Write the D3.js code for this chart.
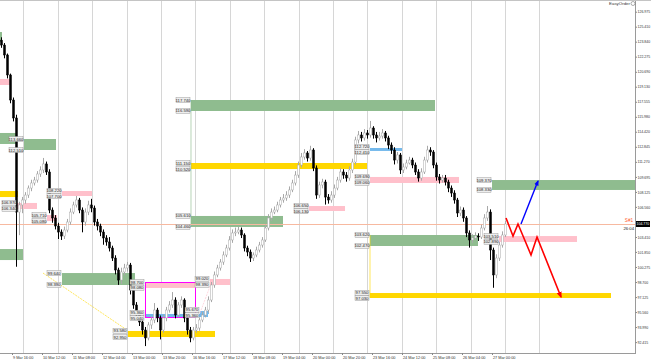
<!DOCTYPE html>
<html>
<head>
<meta charset="utf-8">
<script src="https://cdn.jsdelivr.net/npm/d3@7"></script>
<style>
body { margin: 0; background: #fff; }
svg { display: block; font-family: "Liberation Sans", Arial, sans-serif; }
</style>
</head>
<body>
<svg id="chart" width="651" height="361"></svg>
<script>
"use strict";

// H1 candles, [open, high, low, close]
var candles = [
	[124.00,124.30,123.20,123.49], [123.49,123.70,122.10,122.45], [122.45,122.60,120.00,120.36], [120.36,120.50,117.40,117.74],
	[117.74,118.00,115.50,115.86], [115.86,116.20,100.30,106.02], [106.02,107.10,103.60,106.76], [106.76,107.60,105.90,107.28],
	[107.28,108.10,106.90,107.80], [107.80,108.80,107.50,108.53], [108.53,109.40,108.20,109.06], [109.06,109.70,108.80,109.37],
	[109.37,110.30,109.10,110.00], [110.00,110.80,109.70,110.42], [110.42,111.68,110.10,111.05], [111.05,111.30,109.90,110.21],
	[110.21,110.50,105.90,106.23], [106.23,106.50,104.90,105.40], [105.40,105.70,104.20,104.56], [104.56,104.90,103.20,103.93],
	[103.93,104.20,103.10,103.51], [103.51,104.50,103.20,104.14], [104.14,105.30,103.90,104.98], [104.98,106.40,104.70,106.02],
	[106.02,107.10,105.80,106.76], [106.76,107.70,106.50,107.28], [107.28,107.50,105.90,106.23], [106.23,106.50,103.90,104.98],
	[104.98,106.40,104.60,106.02], [106.02,107.20,105.70,106.76], [106.76,107.40,106.00,106.44], [106.44,106.70,104.60,104.98],
	[104.98,105.30,104.10,104.56], [104.56,104.80,103.50,103.93], [103.93,104.20,102.60,103.31], [103.31,103.60,102.50,102.89],
	[102.89,103.40,101.90,102.26], [102.26,102.50,100.90,101.21], [101.21,101.50,99.50,99.96], [99.96,100.20,98.40,98.91],
	[98.91,100.20,98.50,99.75], [99.75,100.60,99.40,100.17], [100.17,100.80,99.80,100.48], [100.48,100.70,97.40,97.87],
	[97.87,98.10,95.90,96.30], [96.30,96.60,94.80,95.25], [95.25,95.60,94.10,94.52], [94.52,94.80,93.20,93.68],
	[93.68,94.00,92.00,92.85], [92.85,94.50,92.60,94.21], [94.21,95.10,93.80,94.73], [94.73,96.50,94.40,95.77],
	[95.77,96.00,94.50,94.94], [94.94,95.20,92.70,93.68], [93.68,95.30,93.40,94.94], [94.94,96.10,94.60,95.77],
	[95.77,96.70,95.50,96.30], [96.30,97.65,96.00,96.82], [96.82,97.10,94.90,95.25], [95.25,96.60,95.00,96.30],
	[96.30,97.20,96.00,96.82], [96.82,97.00,94.50,94.94], [94.94,95.20,93.20,93.68], [93.68,94.00,92.40,92.85],
	[92.85,94.00,92.60,93.68], [93.68,94.30,93.40,93.89], [93.89,95.00,93.60,94.73], [94.73,95.60,94.50,95.25],
	[95.25,96.10,95.00,95.77], [95.77,97.20,95.50,96.82], [96.82,98.70,96.60,98.39], [98.39,99.80,98.10,99.44],
	[99.44,100.50,99.20,100.17], [100.17,101.10,99.90,100.79], [100.79,101.90,100.50,101.53], [101.53,102.60,101.30,102.26],
	[102.26,103.50,102.00,103.10], [103.10,104.20,102.80,103.83], [103.83,104.40,103.50,103.93], [103.93,104.50,103.70,104.14],
	[104.14,104.40,103.30,103.62], [103.62,103.80,101.90,102.26], [102.26,102.50,101.40,101.84], [101.84,102.10,100.80,101.21],
	[101.21,101.80,100.90,101.53], [101.53,102.40,101.30,102.05], [102.05,102.90,101.80,102.57], [102.57,103.40,102.30,103.10],
	[103.10,104.70,102.90,104.35], [104.35,105.80,104.10,105.40], [105.40,106.40,105.10,106.02], [106.02,106.60,105.80,106.23],
	[106.23,107.10,106.00,106.76], [106.76,107.60,106.50,107.28], [107.28,107.90,107.00,107.49], [107.49,108.20,107.20,107.80],
	[107.80,108.70,107.50,108.33], [108.33,109.40,108.10,109.06], [109.06,110.30,108.80,109.89], [109.89,111.30,109.60,110.94],
	[110.94,112.20,110.70,111.78], [111.78,112.60,111.50,112.20], [112.20,112.40,111.30,111.67], [111.67,112.95,111.40,112.51],
	[112.51,112.70,110.30,110.63], [110.63,110.90,107.40,107.80], [107.80,109.20,107.50,108.85], [108.85,109.50,108.50,109.16],
	[109.16,109.40,106.80,107.59], [107.59,107.90,106.90,107.28], [107.28,108.20,107.00,107.80], [107.80,108.90,107.50,108.53],
	[108.53,109.70,108.30,109.37], [109.37,110.60,109.10,110.21], [110.21,110.50,109.50,109.89], [109.89,110.20,109.20,109.58],
	[109.58,110.80,109.30,110.42], [110.42,111.60,110.10,111.25], [111.25,113.90,111.00,113.56], [113.56,114.50,113.20,114.08],
	[114.08,114.40,113.40,113.77], [113.77,114.70,113.50,114.29], [114.29,114.60,113.70,114.08], [114.08,115.55,113.80,114.81],
	[114.81,115.00,113.70,114.08], [114.08,114.40,113.30,113.77], [113.77,114.40,113.50,113.97], [113.97,114.70,113.70,114.29],
	[114.29,114.50,113.40,113.77], [113.77,114.00,112.60,113.03], [113.03,113.30,112.10,112.51], [112.51,112.80,111.00,111.46],
	[111.46,112.30,111.10,111.99], [111.99,112.20,110.00,110.42], [110.42,111.10,110.10,110.73], [110.73,111.50,110.50,111.15],
	[111.15,111.80,111.00,111.46], [111.46,111.70,110.60,110.94], [110.94,111.20,109.90,110.21], [110.21,110.50,109.20,109.58],
	[109.58,110.60,109.30,110.21], [110.21,111.80,110.00,111.46], [111.46,112.95,111.20,112.51], [112.51,112.80,111.90,112.30],
	[112.30,112.50,110.60,110.94], [110.94,111.20,109.30,109.69], [109.69,110.00,109.00,109.37], [109.37,109.90,109.10,109.58],
	[109.58,109.90,108.80,109.16], [109.16,109.40,108.10,108.53], [108.53,108.80,107.60,108.01], [108.01,108.30,106.90,107.28],
	[107.28,107.50,105.50,105.92], [105.92,106.60,105.60,106.23], [106.23,106.50,105.00,105.40], [105.40,105.60,103.40,103.83],
	[103.83,104.10,102.30,103.10], [103.10,103.70,102.80,103.31], [103.31,103.90,103.10,103.51], [103.51,103.80,103.00,103.41],
	[103.41,104.70,103.20,104.35], [104.35,105.80,104.10,105.40], [105.40,106.65,105.10,106.02], [106.02,106.30,101.00,102.05],
	[102.05,102.30,98.10,99.44], [99.44,101.60,99.10,101.21], [101.21,102.90,100.90,102.57], [102.57,104.00,102.30,103.62],
	[103.62,105.10,103.40,104.77]
];

var priceTicks = [126.975, 125.410, 123.840, 122.275, 120.690, 119.130, 117.555, 115.980, 114.420, 112.845, 111.270,
	109.695, 108.125, 106.560, 103.410, 101.850, 100.275, 98.700, 97.125, 95.560, 93.990, 92.415];

var timeTicks = ["9 Mar 16:00", "10 Mar 12:00", "11 Mar 08:00", "12 Mar 04:00", "13 Mar 00:00", "13 Mar 20:00",
	"16 Mar 16:00", "17 Mar 12:00", "18 Mar 08:00", "19 Mar 04:00", "20 Mar 00:00", "20 Mar 20:00",
	"23 Mar 16:00", "24 Mar 12:00", "25 Mar 08:00", "26 Mar 04:00", "27 Mar 00:00"];

// supply / demand zones in bar index and price
var zones = [
	{from: -3, to: 0.33, hi: 124.85, lo: 123.81, kind: "demand"},
	{from: -3, to: 3.33, hi: 119.94, lo: 119.31, kind: "supply"},
	{from: -3, to: 5, hi: 114.29, lo: 113.14, kind: "demand"},
	{from: 7.67, to: 18.33, hi: 113.66, lo: 112.51, kind: "demand", tag: true},
	{from: -3, to: 5.67, hi: 108.22, lo: 107.59, kind: "gold"},
	{from: 5.33, to: 12, hi: 106.97, lo: 106.34, kind: "supply", tag: true},
	{from: 20.33, to: 30.33, hi: 108.22, lo: 107.70, kind: "supply", tag: true},
	{from: 15.33, to: 18.67, hi: 105.71, lo: 105.08, kind: "supply", tag: true},
	{from: -3, to: 7.33, hi: 102.15, lo: 101.00, kind: "demand"},
	{from: 20.33, to: 44.67, hi: 99.64, lo: 98.39, kind: "demand", tag: true},
	{from: 48, to: 64.67, hi: 98.70, lo: 98.08, kind: "supply", tag: true},
	{from: 48, to: 64.67, hi: 98.70, lo: 95.04, kind: "box"},
	{from: 48, to: 69, hi: 95.36, lo: 95.04, kind: "level", tag: true},
	{from: 42.33, to: 71.33, hi: 93.58, lo: 92.95, kind: "gold", tag: true},
	{from: 69.67, to: 76.33, hi: 99.02, lo: 98.39, kind: "supply", tag: true},
	{from: 66.33, to: 69.33, hi: 95.67, lo: 95.36, kind: "level", tag: true},
	{from: 63.33, to: 94, hi: 105.61, lo: 104.46, kind: "demand", tag: true},
	{from: 102.67, to: 114.67, hi: 106.65, lo: 106.13, kind: "supply", tag: true},
	{from: 123, to: 152.67, hi: 109.69, lo: 109.06, kind: "supply", tag: true},
	{from: 123, to: 159, hi: 103.62, lo: 102.47, kind: "demand", tag: true},
	{from: 123, to: 203.33, hi: 97.55, lo: 97.03, kind: "gold", tag: true},
	{from: 123, to: 133.67, hi: 112.72, lo: 112.41, kind: "level", tag: true},
	{from: 63.33, to: 144.67, hi: 117.74, lo: 116.59, kind: "demand", tag: true},
	{from: 63.33, to: 122, hi: 111.15, lo: 110.52, kind: "gold", tag: true},
	{from: 166, to: 192, hi: 103.51, lo: 102.89, kind: "supply", tag: true},
	{from: 163.67, to: 215, hi: 109.37, lo: 108.33, kind: "demand", tag: true}
];

// thin trend / link lines, [bar, price] pairs
var links = [
	{pts: [[63.33, 117.74], [63.33, 104.46]], kind: "demand"},
	{pts: [[123, 103.62], [123, 97.03]], kind: "gold"},
	{pts: [[14, 99.64], [42, 93.68]], kind: "gold"},
	{pts: [[66.33, 95.46], [70.33, 98.81]], kind: "supply"}
];

var bearPath = [[168.33, 105.40], [170.67, 103.51], [172.33, 104.77], [176.67, 101.53], [178.67, 103.41], [186.67, 97.13]];
var bullPath = [[173.33, 104.77], [179, 109.27]];

var colours = {demand: "#8fbc8f", supply: "#ffc0cb", gold: "#ffd700", level: "#74b9ec", box: "#ff00ff"};

var svg = d3.select("#chart");
var W = 635, H = 353;

var x = d3.scaleLinear().domain([0, 211.33]).range([1, W]);
var y = d3.scaleLinear().domain([90.44, 128.2]).range([361, 0]);
var fmt = d3.format(".3f");

svg.append("defs").append("clipPath").attr("id", "plot")
	.append("rect").attr("x", 0).attr("y", 1).attr("width", W).attr("height", H - 1);
["red", "blue"].forEach(function (c) {
	svg.select("defs").append("marker")
		.attr("id", "arrow-" + c)
		.attr("viewBox", "0 0 10 10").attr("refX", 8).attr("refY", 5)
		.attr("markerWidth", 4).attr("markerHeight", 4).attr("orient", "auto")
		.append("path").attr("d", "M0,1 L10,5 L0,9Z").attr("fill", c);
});

var plot = svg.append("g").attr("clip-path", "url(#plot)");

// vertical grid
plot.selectAll("line.grid")
	.data(d3.range(0, 16).map(function (k) { return 7.43 + 11.47 * k; }))
	.enter().append("line")
	.attr("class", "grid")
	.attr("x1", function (d) { return Math.round(x(d)) + 0.5; })
	.attr("x2", function (d) { return Math.round(x(d)) + 0.5; })
	.attr("y1", 1).attr("y2", H)
	.attr("stroke", "#d6d6d6").attr("stroke-width", 1);

// zones
plot.selectAll("rect.zone")
	.data(zones.filter(function (d) { return d.kind !== "box"; }))
	.enter().append("rect")
	.attr("class", "zone")
	.attr("x", function (d) { return x(d.from); })
	.attr("y", function (d) { return y(d.hi); })
	.attr("width", function (d) { return x(d.to) - x(d.from); })
	.attr("height", function (d) { return y(d.lo) - y(d.hi); })
	.attr("fill", function (d) { return colours[d.kind]; });

plot.selectAll("rect.box")
	.data(zones.filter(function (d) { return d.kind === "box"; }))
	.enter().append("rect")
	.attr("class", "box")
	.attr("x", function (d) { return Math.round(x(d.from)) + 0.5; })
	.attr("y", function (d) { return Math.round(y(d.hi)) + 0.5; })
	.attr("width", function (d) { return Math.round(x(d.to) - x(d.from)); })
	.attr("height", function (d) { return Math.round(y(d.lo) - y(d.hi)); })
	.attr("fill", "none")
	.attr("stroke", colours.box).attr("stroke-width", 1);

var link = d3.line()
	.x(function (d) { return x(d[0]); })
	.y(function (d) { return y(d[1]); });

plot.selectAll("path.link")
	.data(links)
	.enter().append("path")
	.attr("class", "link")
	.attr("d", function (d) { return link(d.pts); })
	.attr("fill", "none")
	.attr("stroke", function (d) { return colours[d.kind]; })
	.attr("stroke-width", 0.8)
	.attr("stroke-dasharray", function (d) { return d.pts[0][0] === d.pts[1][0] ? null : "2,1"; })
	.attr("opacity", 0.8);

// current bid line
var last = candles[candles.length - 1][3];
plot.append("line")
	.attr("x1", 0).attr("x2", W)
	.attr("y1", Math.round(y(last)) + 0.5).attr("y2", Math.round(y(last)) + 0.5)
	.attr("stroke", "#f7b9a0").attr("stroke-width", 1);

// candles
var bar = plot.selectAll("g.candle")
	.data(candles)
	.enter().append("g")
	.attr("class", "candle")
	.attr("transform", function (d, i) { return "translate(" + Math.round(x(i)) + ",0)"; });

bar.append("line")
	.attr("x1", 0.5).attr("x2", 0.5)
	.attr("y1", function (d) { return y(d[1]); })
	.attr("y2", function (d) { return y(d[2]); })
	.attr("stroke", function (d) { return d[3] < d[0] ? "#000" : "#a8a8a8"; })
	.attr("stroke-width", 1);

bar.append("rect")
	.attr("x", -0.5)
	.attr("width", 2)
	.attr("y", function (d) { return y(Math.max(d[0], d[3])); })
	.attr("height", function (d) { return Math.max(0.8, Math.abs(y(d[0]) - y(d[3]))); })
	.attr("fill", function (d) { return d[3] < d[0] ? "#000" : "#fff"; })
	.attr("stroke", function (d) { return d[3] < d[0] ? "#000" : "#a8a8a8"; })
	.attr("stroke-width", 0.5);

// forecast arrows
plot.append("path")
	.attr("d", link(bearPath))
	.attr("fill", "none").attr("stroke", "red").attr("stroke-width", 1.6)
	.attr("marker-end", "url(#arrow-red)");
plot.append("path")
	.attr("d", link(bullPath))
	.attr("fill", "none").attr("stroke", "blue").attr("stroke-width", 1.4)
	.attr("marker-end", "url(#arrow-blue)");

// price tags to the left of each zone; thin zones push their two tags apart
var tags = [];
zones.forEach(function (d) {
	if (d.tag) {
		var gap = Math.max(0, 5.4 - (y(d.lo) - y(d.hi))) / 2;
		tags.push({bar: d.from, price: d.hi, shift: -gap});
		tags.push({bar: d.from, price: d.lo, shift: gap});
	}
});
var tag = svg.append("g").selectAll("g.tag")
	.data(tags)
	.enter().append("g")
	.attr("class", "tag")
	.attr("transform", function (d) { return "translate(" + (x(d.bar) - 15) + "," + (y(d.price) + d.shift) + ")"; });
tag.append("rect")
	.attr("x", 0).attr("y", -2.5).attr("width", 14).attr("height", 5)
	.attr("fill", "#eeeeee").attr("stroke", "#8a8a8a").attr("stroke-width", 0.4);
tag.append("text")
	.attr("x", 7).attr("y", 1.5)
	.attr("text-anchor", "middle")
	.attr("font-size", 4.2)
	.attr("fill", "#222")
	.text(function (d) { return fmt(d.price); });

// frame
svg.append("line").attr("x1", 0).attr("x2", 651).attr("y1", 0.5).attr("y2", 0.5).attr("stroke", "#c4c4c4");
svg.append("line").attr("x1", 0).attr("x2", W + 1).attr("y1", H + 0.5).attr("y2", H + 0.5).attr("stroke", "#9a9a9a");
svg.append("line").attr("x1", W + 0.5).attr("x2", W + 0.5).attr("y1", 1).attr("y2", H + 1).attr("stroke", "#9a9a9a");

// price axis
var yAxis = svg.append("g")
	.attr("transform", "translate(" + (W + 0.5) + ",0)")
	.call(d3.axisRight(y).tickValues(priceTicks).tickSize(1.5).tickPadding(0.5).tickFormat(fmt));
yAxis.select(".domain").remove();
yAxis.selectAll("line").attr("stroke", "#888");
yAxis.selectAll("text")
	.attr("font-size", 3.5)
	.attr("fill", "#333")
	.attr("font-family", "Liberation Sans, Arial, sans-serif");

// time axis
var timeG = svg.append("g").selectAll("g.time")
	.data(timeTicks)
	.enter().append("g")
	.attr("class", "time")
	.attr("transform", function (d, i) { return "translate(" + Math.round(x(3.67 + 10 * i)) + "," + H + ")"; });
timeG.append("line").attr("x1", 0.5).attr("x2", 0.5).attr("y1", 0).attr("y2", 2).attr("stroke", "#888");
timeG.append("text")
	.attr("x", 1).attr("y", 5.5)
	.attr("font-size", 3.8).attr("fill", "#333")
	.text(function (d) { return d; });

// bid box on the price axis
var by = Math.round(y(last));
svg.append("rect").attr("x", W + 1).attr("y", by - 3).attr("width", 14).attr("height", 6).attr("fill", "#000");
svg.append("text").attr("x", W + 1.5).attr("y", by + 1.4)
	.attr("font-size", 3.5).attr("fill", "#fff").text(fmt(last));
svg.append("text").attr("x", W - 2).attr("y", by - 2)
	.attr("text-anchor", "end").attr("font-size", 4.6).attr("fill", "#ff5a2a").text("S#1");
svg.append("text").attr("x", W - 1).attr("y", by + 6)
	.attr("text-anchor", "end").attr("font-size", 4.2).attr("fill", "#111").text("26:04");

// one-click trading widget label
svg.append("text").attr("x", 630).attr("y", 5)
	.attr("text-anchor", "end").attr("font-size", 4.4).attr("fill", "#333").text("EasyOrder");
svg.append("circle").attr("cx", 633).attr("cy", 3.5).attr("r", 2)
	.attr("fill", "#fff").attr("stroke", "#777").attr("stroke-width", 0.6);
</script>
</body>
</html>
